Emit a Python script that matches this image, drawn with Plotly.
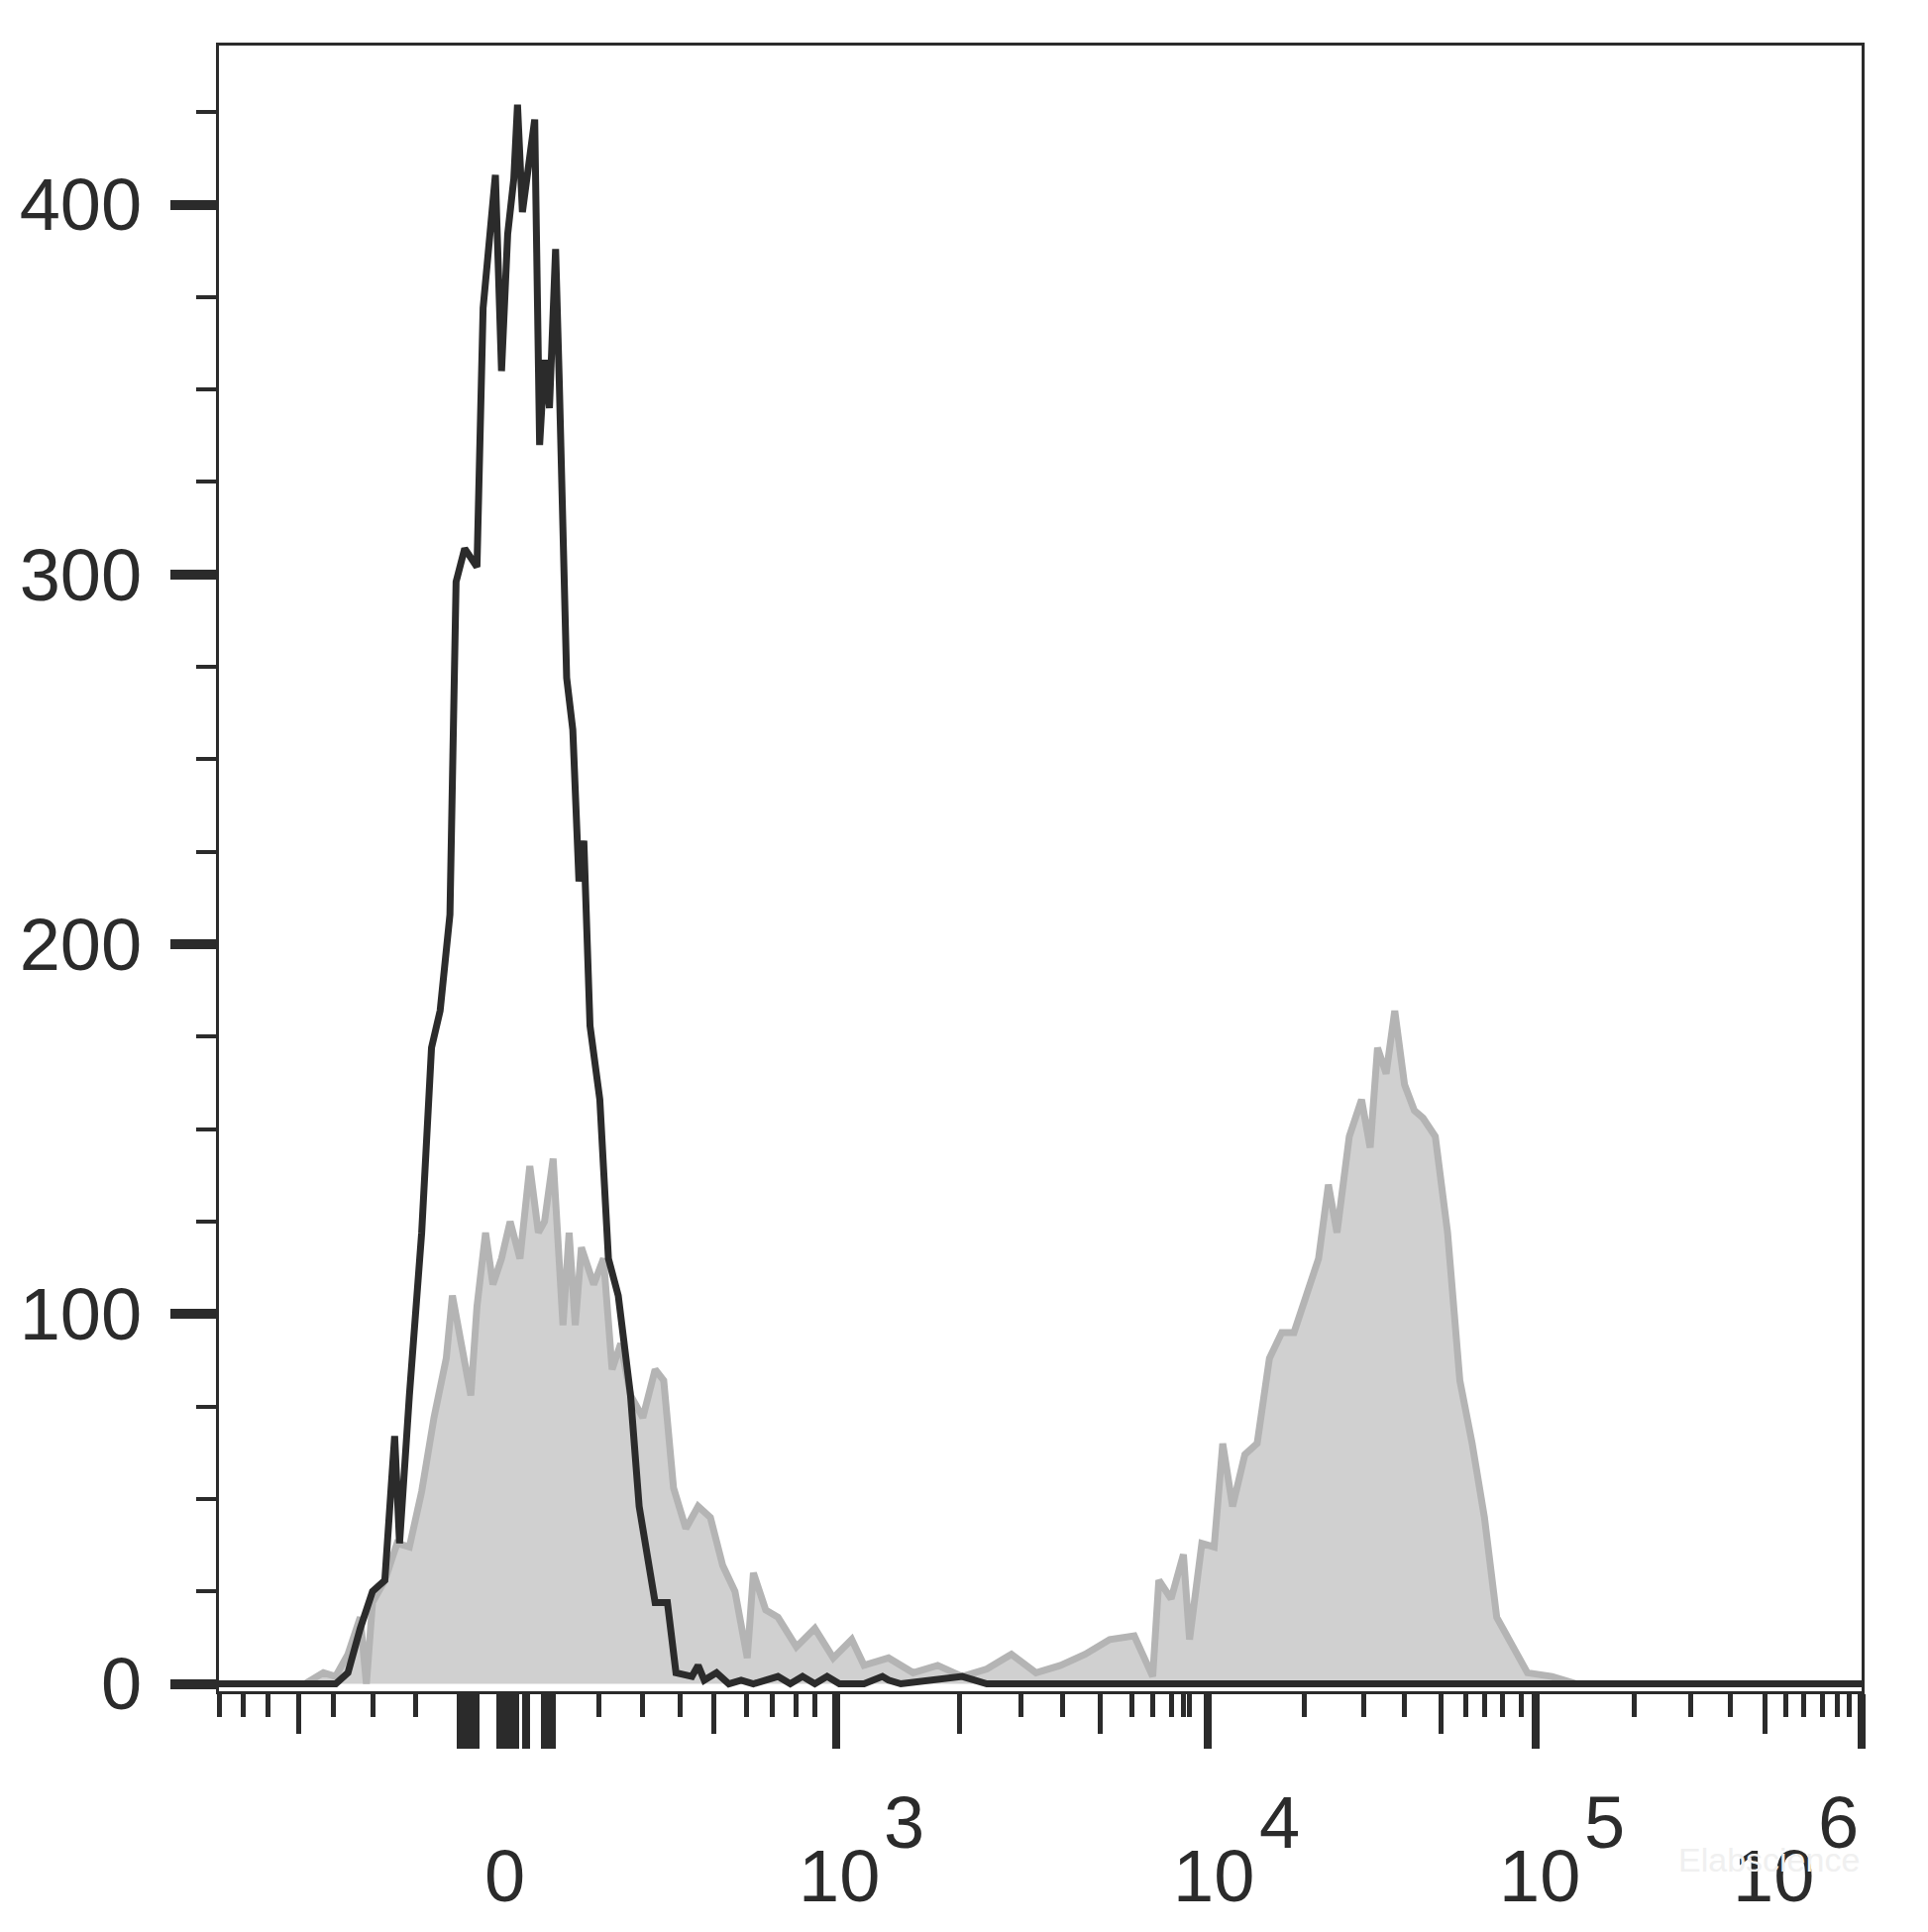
import plotly.graph_objects as go

# x in display-channel units (biexponential display scale), y in counts
black_x = [175,270,280,290,300,310,318,322,330,340,348,355,363,368,375,385,390,395,400,405,410,415,418,422,428,432,436,440,444,449,452,458,463,468,472,477,485,492,500,510,517,522,530,540,547,560,565,570,580,590,600,610,630,640,650,660,670,680,700,715,720,730,780,800,1512]
black_y = [0,0,3,15,25,28,67,38,78,122,172,182,208,298,307,302,372,388,408,355,392,407,427,398,412,423,335,358,345,388,352,272,258,217,228,178,158,115,105,78,48,38,22,22,3,2,5,1,3,0,1,0,2,0,2,0,2,0,0,2,1,0,2,0,0]

gray_x = [175,245,260,270,280,290,295,300,310,320,330,340,350,360,365,372,380,385,392,398,405,412,420,428,435,440,447,455,460,465,470,480,488,495,502,510,520,530,537,545,555,565,575,585,595,605,610,620,630,645,660,675,690,700,720,740,760,780,800,820,840,860,880,900,920,935,940,950,960,965,975,985,992,1000,1010,1020,1030,1040,1050,1060,1070,1078,1085,1095,1105,1112,1118,1125,1132,1140,1148,1155,1165,1175,1185,1195,1205,1215,1225,1240,1260,1280,1512]
gray_y = [0,0,3,2,8,18,0,22,28,38,37,52,72,88,105,92,78,102,122,108,115,125,115,140,122,125,142,97,122,97,118,108,115,85,92,78,72,85,82,53,42,48,45,32,25,7,30,20,18,10,15,7,12,5,7,3,5,2,4,8,3,5,8,12,13,2,28,23,35,12,38,37,65,48,62,65,88,95,95,105,115,135,122,148,158,145,172,165,182,162,155,153,148,122,82,65,45,18,12,3,2,0,0]

y_major = [0, 100, 200, 300, 400]
y_minor = [25,50,75,125,150,175,225,250,275,325,350,375,425]

x_major_ticks = [372,378,384,404,410,416,425,440,446,677,980,1247,1512]
x_mid_ticks = [240,578,778,892,1170,1433]
x_minor_ticks = [175,195,215,268,300,335,484,520,550,604,625,645,660,828,862,918,935,950,960,965,1058,1107,1140,1190,1205,1220,1235,1327,1373,1405,1450,1465,1480,1492,1502]

x_labels = [(408, "0", ""), (680, "10", "3"), (985, "10", "4"), (1250, "10", "5"), (1440, "10", "6")]

FONT = "Liberation Sans, Arial, sans-serif"
AX = "#2b2b2b"

fig = go.Figure()
fig.add_trace(go.Scatter(x=gray_x, y=gray_y, mode="lines", fill="tozeroy",
                         fillcolor="#d0d0d0", line=dict(color="#b4b4b4", width=7), hoverinfo="skip"))
fig.add_trace(go.Scatter(x=black_x, y=black_y, mode="lines",
                         line=dict(color=AX, width=7), hoverinfo="skip"))
fig.add_trace(go.Scatter(x=[175], y=[0], xaxis="x2", mode="markers", marker=dict(opacity=0), hoverinfo="skip"))
fig.add_trace(go.Scatter(x=[175], y=[0], xaxis="x3", mode="markers", marker=dict(opacity=0), hoverinfo="skip"))

xr = [175, 1512]
common = dict(range=xr, showgrid=False, zeroline=False, showticklabels=False, ticks="outside", tickcolor=AX)
fig.update_layout(
    width=1946, height=1950, plot_bgcolor="white", paper_bgcolor="white", showlegend=False,
    margin=dict(l=211, r=75, t=38, b=251),
    xaxis=dict(**common, tickmode="array", tickvals=x_major_ticks, ticklen=55, tickwidth=8,
               showline=True, linecolor=AX, linewidth=3, mirror=True),
    xaxis2=dict(**common, overlaying="x", tickmode="array", tickvals=x_mid_ticks, ticklen=42, tickwidth=5,
                anchor="y", side="bottom"),
    xaxis3=dict(**common, overlaying="x", tickmode="array", tickvals=x_minor_ticks, ticklen=25, tickwidth=5,
                anchor="y", side="bottom"),
    yaxis=dict(range=[-2, 443], showgrid=False, zeroline=False, tickmode="array", tickvals=y_major,
               ticks="outside", ticklen=46, tickwidth=10, tickcolor=AX, ticklabelstandoff=14,
               minor=dict(tickvals=y_minor, ticks="outside", ticklen=20, tickwidth=4, tickcolor=AX),
               tickfont=dict(family=FONT, size=74, color=AX),
               showline=True, linecolor=AX, linewidth=3, mirror=True),
)

for xv, base, sup in x_labels:
    fig.add_annotation(x=xv, y=-0.112, xref="x", yref="paper", text=base, showarrow=False,
                       font=dict(family=FONT, size=74, color=AX), yanchor="middle")
    if sup:
        fig.add_annotation(x=xv + 53, y=-0.08, xref="x", yref="paper", text=sup, showarrow=False,
                           font=dict(family=FONT, size=74, color=AX), yanchor="middle")
fig.add_annotation(x=1.0, y=-0.115, xref="paper", yref="paper", text="Elabscience", showarrow=False,
                   font=dict(family=FONT, size=34, color="#f0f0f0"), xanchor="right")

fig.write_html("out.html")
